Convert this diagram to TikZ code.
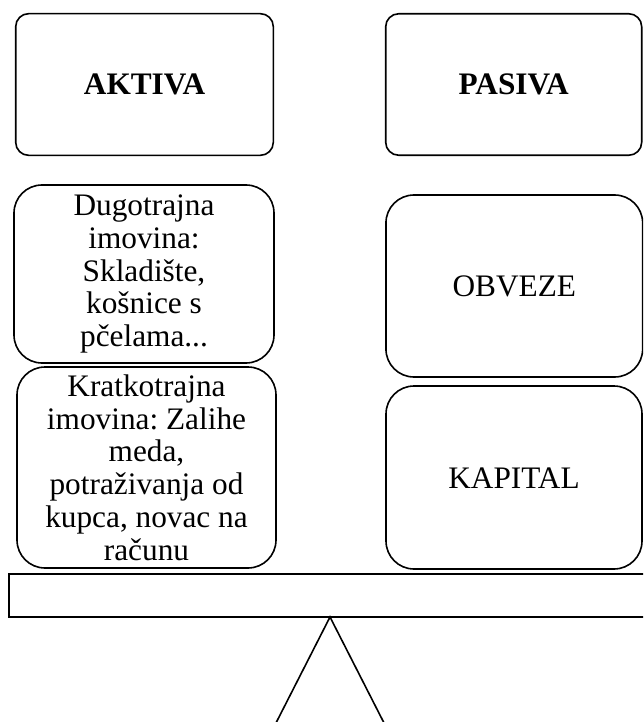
\documentclass[tikz,border=0pt]{standalone}
\usepackage{fontspec}
\setmainfont{Liberation Serif}
\frenchspacing
\begin{document}
\begin{tikzpicture}[x=1pt,y=-1pt,
  box/.style={draw=black, line width=1.6pt, rounded corners=#1, inner sep=0pt,
    align=center, font=\fontsize{31.3}{32.8}\selectfont},
  box/.default=28pt,
  single/.style={text height=21pt, text depth=0pt},
  plain/.style={draw=black, line width=1.6pt}]
\clip (0,0) rectangle (643,722);
% header boxes
\node[box=13pt, single, minimum width=257.6pt, minimum height=141.7pt,
  font=\fontsize{31.3}{32.8}\selectfont\bfseries] (aktiva) at (144.5,84.5) {AKTIVA};
\node[box=13pt, single, minimum width=256pt, minimum height=141.5pt,
  font=\fontsize{31.3}{32.8}\selectfont\bfseries] (pasiva) at (513.7,84.5) {PASIVA};
% left column
\node[box, minimum width=260pt, minimum height=178pt] (dug) at (144,274)
  {Dugotrajna\\imovina:\\Skladište,\\košnice s\\pčelama...};
\node[box, minimum width=259pt, minimum height=201pt] (krat) at (146.5,467.5)
  {Kratkotrajna\\imovina: Zalihe\\meda,\\potraživanja od\\kupca, novac na\\računu};
% right column
\node[box, single, minimum width=256.7pt, minimum height=182pt] (obv) at (514.3,286) {OBVEZE};
\node[box, single, minimum width=256pt, minimum height=183pt] (kap) at (514,477.5) {KAPITAL};
% beam and fulcrum
\node[plain, minimum width=651pt, minimum height=43pt, inner sep=0pt] (beam) at (334.5,595.5) {};
\coordinate (apex) at (330,617);
\coordinate (footL) at (267.3,740);
\coordinate (footR) at (392.7,740);
\draw[plain, line join=miter] (footL) -- (apex) -- (footR);
\end{tikzpicture}
\end{document}
